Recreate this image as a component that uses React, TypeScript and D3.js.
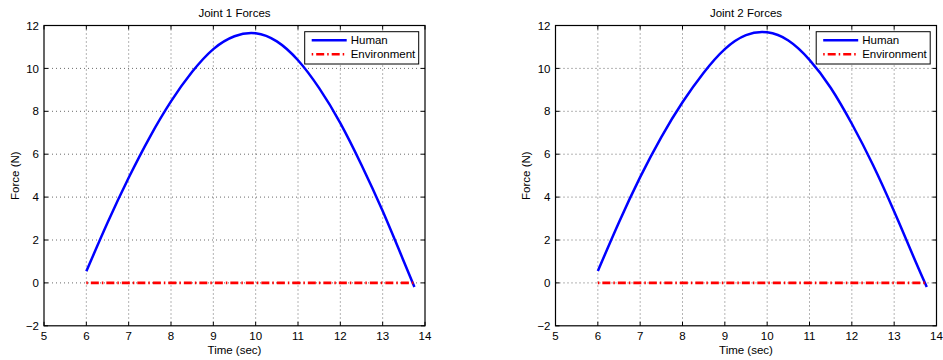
import React from "react";
import * as d3 from "d3";

// ---- Data ----
const titles = ["Joint 1 Forces", "Joint 2 Forces"];
const xTicks = [5, 6, 7, 8, 9, 10, 11, 12, 13, 14];
const yTicks = [-2, 0, 2, 4, 6, 8, 10, 12];
const xLabel = "Time (sec)";
const yLabel = "Force (N)";
const legendLabels = ["Human", "Environment"];

const joint1Time = [6, 6.5, 7, 7.5, 8, 8.5, 9, 9.5, 10, 10.5, 11, 11.5, 12, 12.5, 13, 13.5, 13.75];
const joint1Human = [0.54, 2.8, 4.9, 6.8, 8.46, 9.84, 10.9, 11.5, 11.64, 11.26, 10.38, 9.08, 7.45, 5.5, 3.35, 1.0, -0.19];
const joint1EnvTime = [6, 13.75];
const joint1Env = [0, 0];

const joint2Time = [6, 6.5, 7, 7.5, 8, 8.5, 9, 9.5, 10, 10.5, 11, 11.5, 12, 12.5, 13, 13.5, 13.77];
const joint2Human = [0.55, 2.83, 4.93, 6.8, 8.42, 9.8, 10.9, 11.55, 11.68, 11.3, 10.4, 9.1, 7.42, 5.5, 3.33, 1.02, -0.19];
const joint2EnvTime = [6, 13.77];
const joint2Env = [0, 0];

const FONT = "'Liberation Sans', Arial, Helvetica, sans-serif";
const FS = 11.5;

type PanelProps = {
  left: number;
  title: string;
  time: number[];
  human: number[];
  envTime: number[];
  env: number[];
};

function Panel({ left, title, time, human, envTime, env }: PanelProps) {
  const top = 25.5;
  const width = 381;
  const height = 300.3;
  const x = d3.scaleLinear().domain([5, 14]).range([left, left + width]);
  const y = d3.scaleLinear().domain([-2, 12]).range([top + height, top]);
  const line = d3
    .line<[number, number]>()
    .x((d) => x(d[0]))
    .y((d) => y(d[1]))
    .curve(d3.curveNatural);
  const straight = d3
    .line<[number, number]>()
    .x((d) => x(d[0]))
    .y((d) => y(d[1]));
  const humanPts = time.map((t, i) => [t, human[i]] as [number, number]);
  const envPts = envTime.map((t, i) => [t, env[i]] as [number, number]);
  const right = left + width;
  const bottom = top + height;
  const tl = 4;
  const lx = right - 120.3;
  const ly = top + 6.2;
  return (
    <g>
      <text x={(left + right) / 2} y={16.5} textAnchor="middle" fontSize={FS} fontFamily={FONT} fill="#000">
        {title}
      </text>
      {/* grid */}
      {xTicks.slice(1, -1).map((t) => (
        <line key={"gx" + t} x1={x(t)} x2={x(t)} y1={top} y2={bottom} stroke="#444" strokeWidth={0.8} strokeDasharray="1,3" />
      ))}
      {yTicks.slice(1, -1).map((t) => (
        <line key={"gy" + t} x1={left} x2={right} y1={y(t)} y2={y(t)} stroke="#444" strokeWidth={0.8} strokeDasharray="1,3" />
      ))}
      {/* ticks */}
      {xTicks.map((t) => (
        <g key={"tx" + t}>
          <line x1={x(t)} x2={x(t)} y1={bottom} y2={bottom - tl} stroke="#000" strokeWidth={1} />
          <line x1={x(t)} x2={x(t)} y1={top} y2={top + tl} stroke="#000" strokeWidth={1} />
          <text x={x(t)} y={340} textAnchor="middle" fontSize={FS} fontFamily={FONT} fill="#000">
            {t}
          </text>
        </g>
      ))}
      {yTicks.map((t) => (
        <g key={"ty" + t}>
          <line x1={left} x2={left + tl} y1={y(t)} y2={y(t)} stroke="#000" strokeWidth={1} />
          <line x1={right} x2={right - tl} y1={y(t)} y2={y(t)} stroke="#000" strokeWidth={1} />
          <text x={left - 5} y={y(t)} dy="0.36em" textAnchor="end" fontSize={FS} fontFamily={FONT} fill="#000">
            {t < 0 ? "\u2212" + Math.abs(t) : t}
          </text>
        </g>
      ))}
      {/* data */}
      <path d={line(humanPts) || ""} fill="none" stroke="#0000ff" strokeWidth={2.5} />
      <path d={straight(envPts) || ""} fill="none" stroke="#ff0000" strokeWidth={2.6} strokeDasharray="1.5,3,8,3" />
      {/* box */}
      <rect x={left} y={top} width={width} height={height} fill="none" stroke="#000" strokeWidth={1.2} />
      {/* axis labels */}
      <text x={(left + right) / 2} y={353.5} textAnchor="middle" fontSize={FS} fontFamily={FONT} fill="#000">
        {xLabel}
      </text>
      <text
        transform={`translate(${left - 25.5},${(top + bottom) / 2}) rotate(-90)`}
        textAnchor="middle"
        fontSize={FS}
        fontFamily={FONT}
        fill="#000"
      >
        {yLabel}
      </text>
      {/* legend */}
      <rect x={lx} y={ly} width={114} height={32.3} fill="#fff" stroke="#000" strokeWidth={1} />
      <line x1={lx + 7} x2={lx + 42} y1={ly + 8.5} y2={ly + 8.5} stroke="#0000ff" strokeWidth={2.5} />
      <line x1={lx + 7} x2={lx + 42} y1={ly + 22.6} y2={ly + 22.6} stroke="#ff0000" strokeWidth={2.6} strokeDasharray="1.5,3,8,3" />
      <text x={lx + 46} y={ly + 8.5} dy="0.36em" fontSize={FS} fontFamily={FONT} fill="#000">
        {legendLabels[0]}
      </text>
      <text x={lx + 46} y={ly + 22.6} dy="0.36em" fontSize={FS} fontFamily={FONT} fill="#000">
        {legendLabels[1]}
      </text>
    </g>
  );
}

export default function App() {
  return (
    <svg width={943} height={360} style={{ position: "absolute", left: 0, top: 0, background: "#fff" }}>
      <rect x={0} y={0} width={943} height={360} fill="#fff" />
      <Panel left={44} title={titles[0]} time={joint1Time} human={joint1Human} envTime={joint1EnvTime} env={joint1Env} />
      <Panel left={555.5} title={titles[1]} time={joint2Time} human={joint2Human} envTime={joint2EnvTime} env={joint2Env} />
    </svg>
  );
}
